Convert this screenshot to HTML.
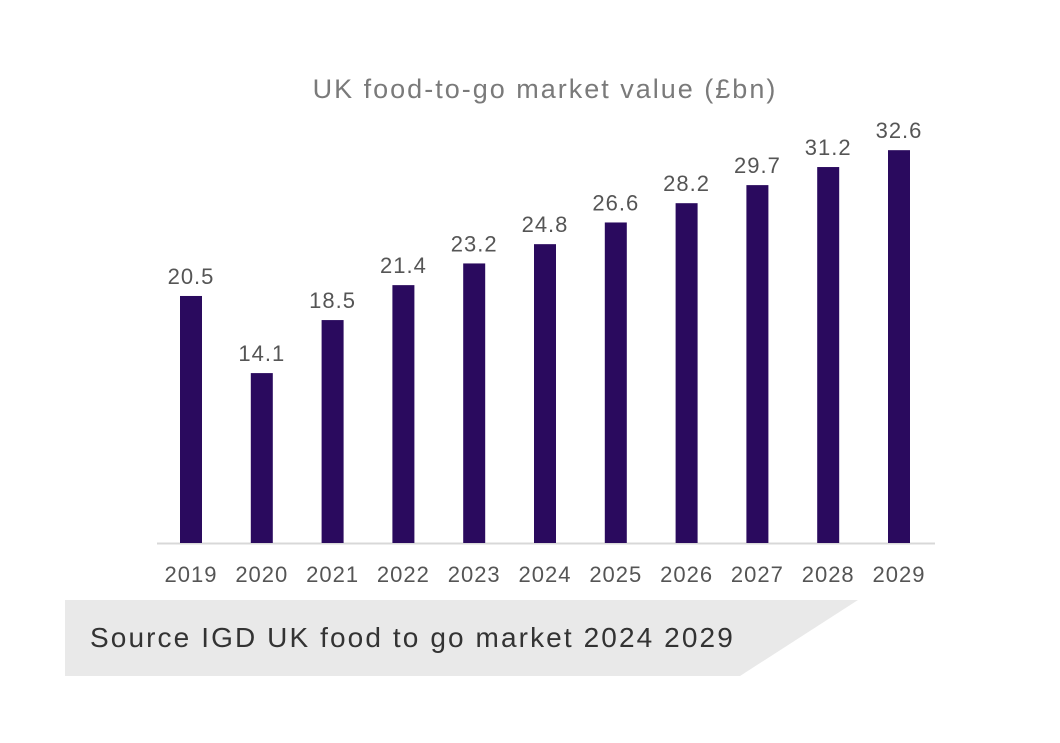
<!DOCTYPE html>
<html><head><meta charset="utf-8"><style>
body{margin:0;background:#fff;width:1060px;height:738px;overflow:hidden;font-family:"Liberation Sans",sans-serif}
</style></head><body>
<svg width="1060" height="738">
<text x="545" y="98" text-anchor="middle" font-size="27" letter-spacing="2" fill="#7a7a7a">UK food-to-go market value (£bn)</text>
<line x1="157" y1="543.5" x2="935" y2="543.5" stroke="#d8d8d8" stroke-width="2"/>
<g id="bars"></g>
<polygon points="65,600 858,600 740,676 65,676" fill="#e9e9e9"/>
<text x="90" y="647" font-size="28" letter-spacing="2.1" fill="#333">Source IGD UK food to go market 2024 2029</text>
</svg>
<script>
const years=["2019","2020","2021","2022","2023","2024","2025","2026","2027","2028","2029"];
const values=[20.5,14.1,18.5,21.4,23.2,24.8,26.6,28.2,29.7,31.2,32.6];
const labels=["20.5","14.1","18.5","21.4","23.2","24.8","26.6","28.2","29.7","31.2","32.6"];
const base=543,scale=12.05,x0=191,step=70.8,bw=22;
const xs=i=>x0+i*step, ys=v=>base-v*scale;
const g=document.getElementById('bars'),NS="http://www.w3.org/2000/svg";
years.forEach((y,i)=>{
 const r=document.createElementNS(NS,'rect');
 r.setAttribute('x',xs(i)-bw/2);r.setAttribute('y',ys(values[i]));
 r.setAttribute('width',bw);r.setAttribute('height',base-ys(values[i]));
 r.setAttribute('fill','#2a0a5e');
 
 
 g.appendChild(r);
 const t=document.createElementNS(NS,'text');
 t.setAttribute('x',xs(i));t.setAttribute('y',ys(values[i])-12);
 t.setAttribute('text-anchor','middle');t.setAttribute('font-size','22');t.setAttribute('letter-spacing','1');t.setAttribute('fill','#555');
 t.textContent=labels[i];
 
 
 g.appendChild(t);
 const l=document.createElementNS(NS,'text');
 l.setAttribute('x',xs(i));l.setAttribute('y',582);
 l.setAttribute('text-anchor','middle');l.setAttribute('font-size','22');l.setAttribute('letter-spacing','1');l.setAttribute('fill','#555');
 l.textContent=y;
 
 
 g.appendChild(l);
});
</script>
</body></html>
